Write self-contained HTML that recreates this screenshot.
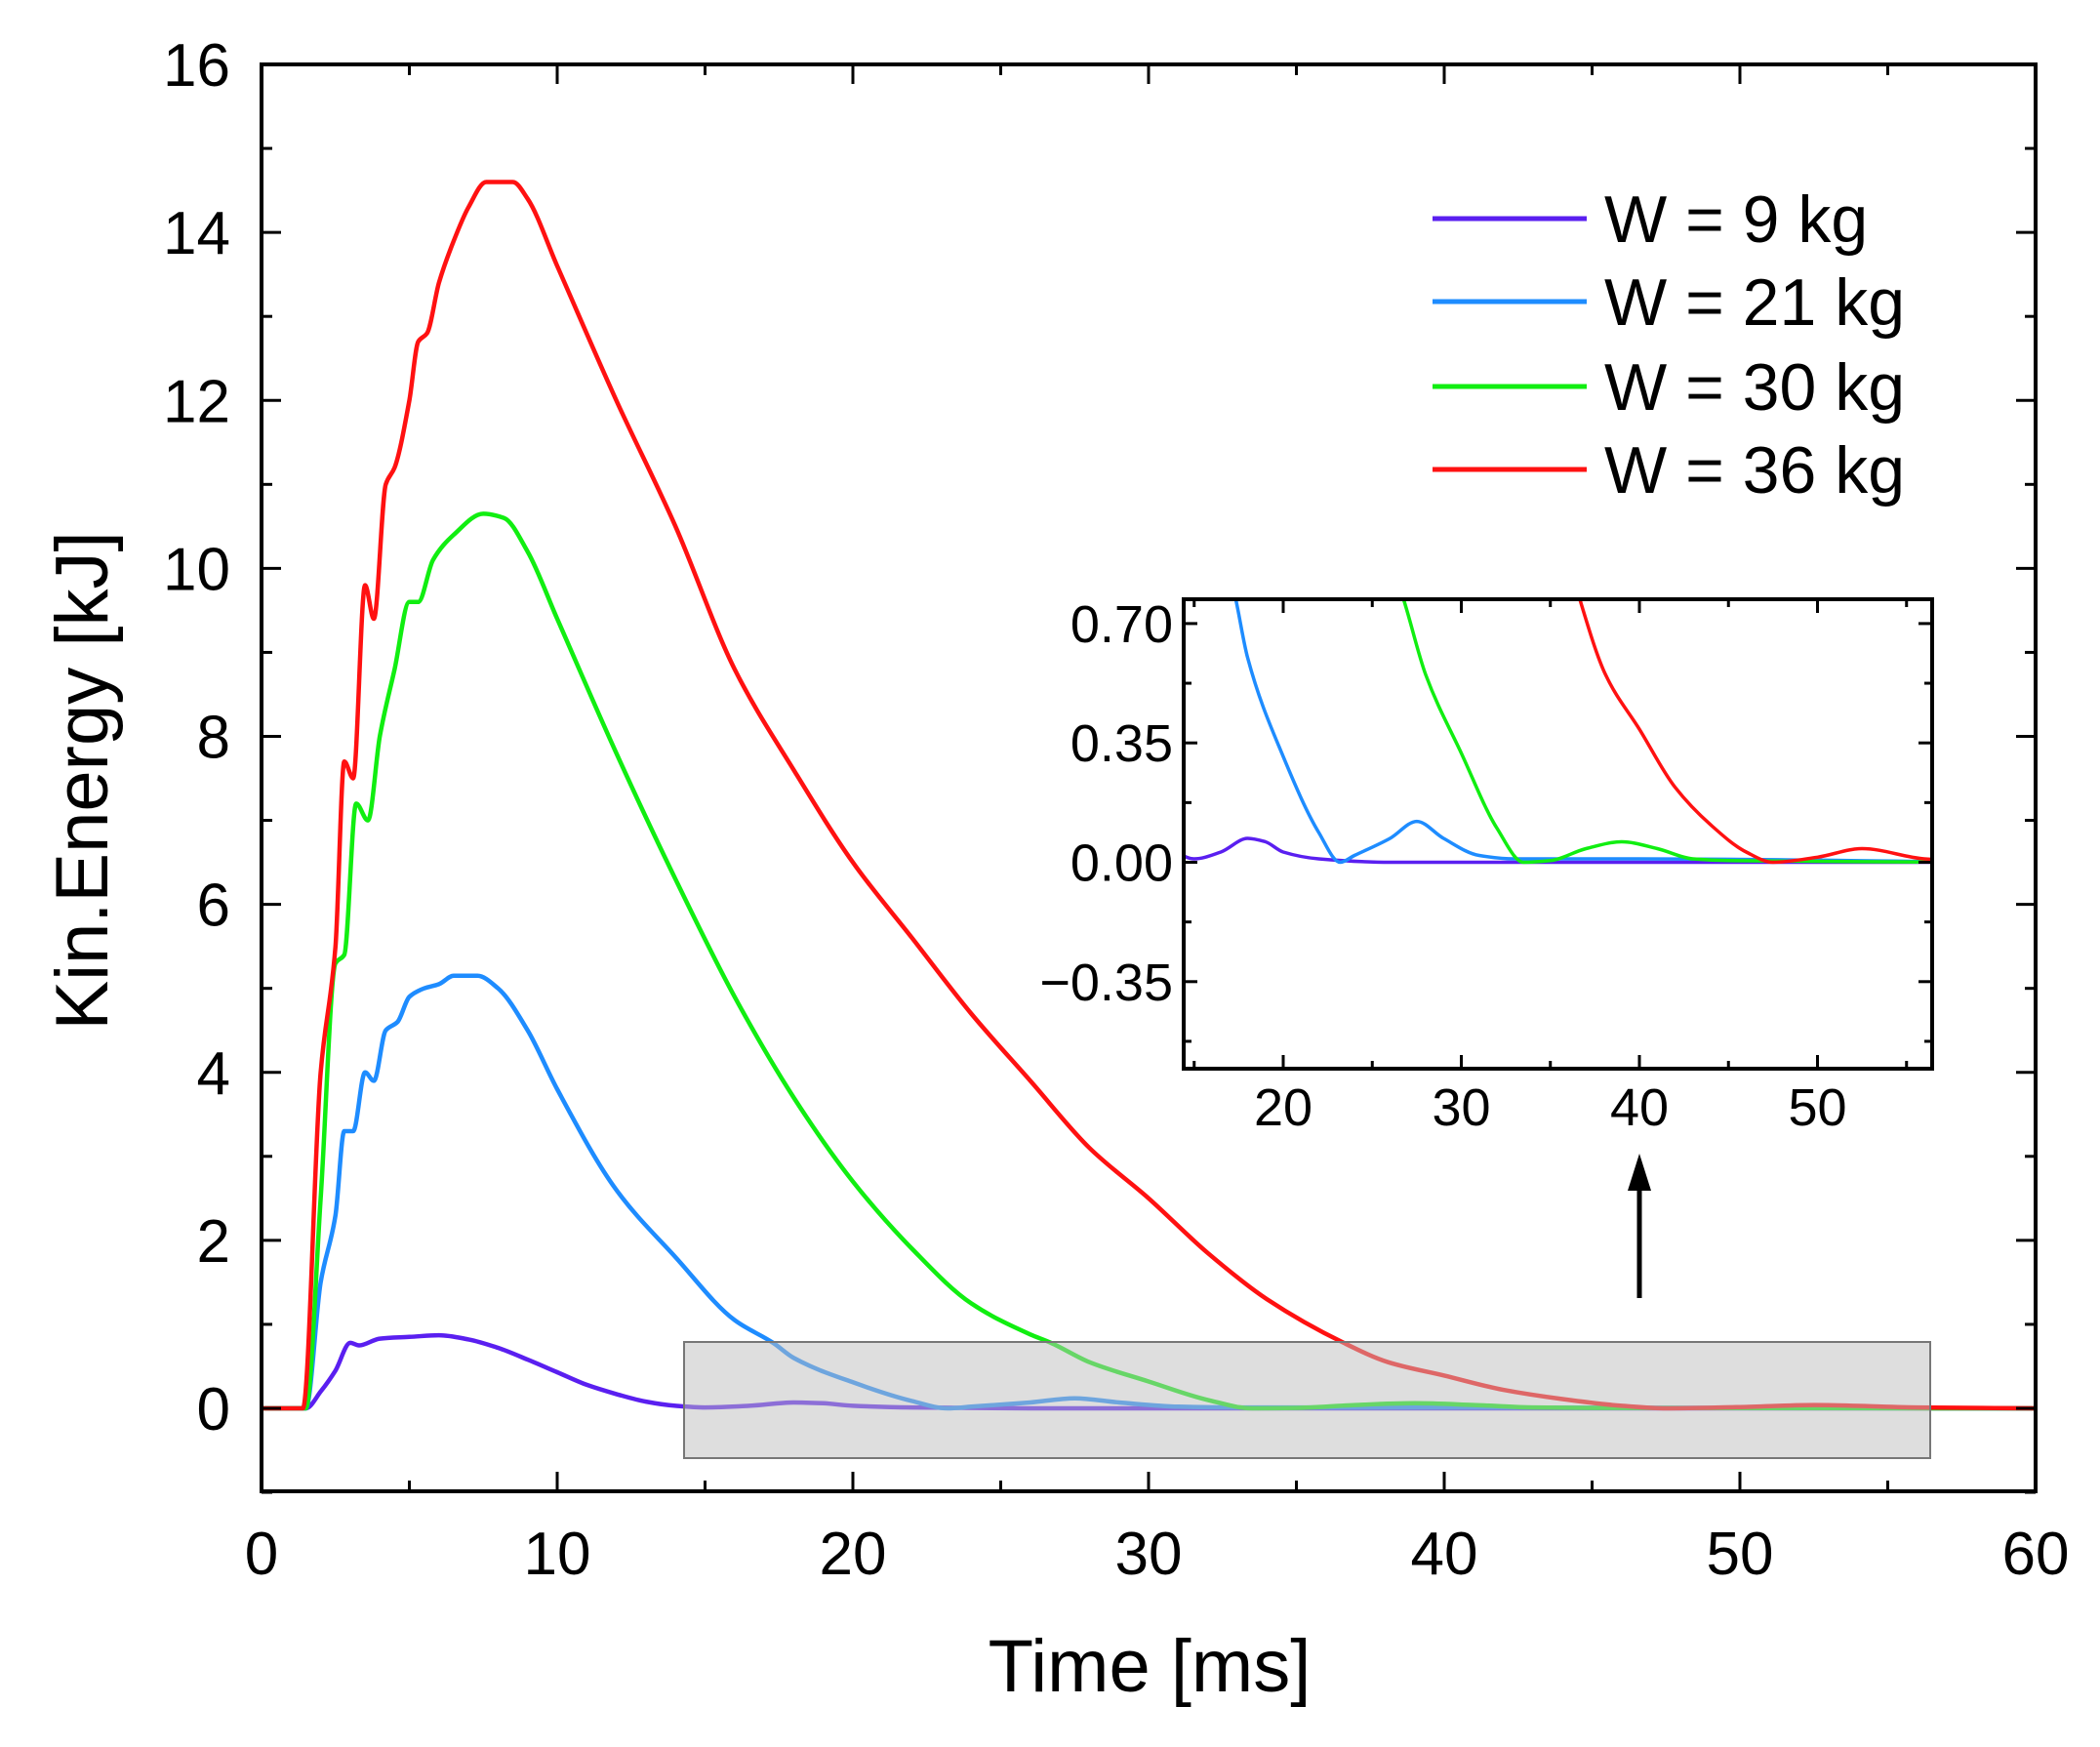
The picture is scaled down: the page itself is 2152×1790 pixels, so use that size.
<!DOCTYPE html>
<html><head><meta charset="utf-8"><style>
html,body{margin:0;padding:0;background:#fff;}
svg{display:block;font-family:"Liberation Sans",Arial,sans-serif;}
</style></head><body>
<svg id="chart" width="2152" height="1790" viewBox="0 0 2152 1790" xmlns="http://www.w3.org/2000/svg">
<g id="main"></g>
</svg>
<script>
const seriesNames=["W = 9 kg","W = 21 kg","W = 30 kg","W = 36 kg"];
const seriesColors=["#5a1ff0","#1e8cff","#11ee11","#ff1111"];
const t9=[0,1.5,2,2.5,3,3.3,4,5,6,7,8,9,10,11,12,13,14,15,16.5,18,19,20,22,26,40,60];
const e9=[0,0,0.2,0.45,0.78,0.75,0.83,0.85,0.87,0.82,0.72,0.58,0.43,0.28,0.17,0.08,0.03,0.01,0.03,0.07,0.06,0.03,0.01,0,0,0];
const t21=[0,1.5,2,2.5,2.8,3.1,3.5,3.8,4.2,4.6,5,5.5,6,6.5,7.3,8,9,10,12,14,16,17.3,18,20,22,23.2,24,26,27.5,29,31,33,40,60];
const e21=[0,0,1.5,2.3,3.3,3.3,4.0,3.9,4.5,4.6,4.9,5.0,5.05,5.15,5.15,5.0,4.5,3.8,2.6,1.8,1.05,0.78,0.6,0.31,0.087,0,0.02,0.07,0.12,0.07,0.02,0.01,0.01,0];
const t30=[0,1.5,2,2.5,2.8,3.2,3.6,4,4.5,5,5.3,5.8,6.5,7.5,8.2,9,10,12,14,16,18,20,22,24,26,26.7,28,30,32,33.5,35,37,39,41,43,45,60];
const e30=[0,0,2.5,5.3,5.4,7.2,7.0,8.0,8.8,9.6,9.6,10.1,10.4,10.65,10.6,10.2,9.4,7.8,6.3,4.9,3.7,2.7,1.9,1.25,0.88,0.78,0.55,0.32,0.1,0,0.005,0.04,0.06,0.04,0.01,0.005,0];
const t36=[0,1.4,2,2.5,2.8,3.1,3.5,3.8,4.2,4.5,5,5.3,5.6,6,6.5,7,7.6,8.5,9,10,12,14,16,18,20,22,24,26,28,30,32,34,36.6,38.1,40,42,44,46,47.5,50,52.5,56,60];
const e36=[0,0,4,5.5,7.7,7.5,9.8,9.4,11.0,11.2,12.0,12.7,12.8,13.4,13.9,14.3,14.6,14.6,14.4,13.6,12.0,10.5,8.8,7.6,6.5,5.6,4.7,3.9,3.1,2.5,1.85,1.3,0.78,0.55,0.39,0.22,0.11,0.03,0,0.015,0.04,0.01,0];
const xTicks=[0,10,20,30,40,50,60];
const yTicks=[0,2,4,6,8,10,12,14,16];
const insetXTicks=[20,30,40,50];
const insetYTicks=[0.70,0.35,0.00,-0.35];
const insetYLabels=["0.70","0.35","0.00","\u22120.35"];

const NS="http://www.w3.org/2000/svg";
const root=document.getElementById('main');
function mk(tag,attrs,parent){const e=document.createElementNS(NS,tag);for(const k in attrs)e.setAttribute(k,attrs[k]);(parent||root).appendChild(e);return e;}
const ts=[t9,t21,t30,t36], es=[e9,e21,e30,e36];

const L=268,R=2086,T=66,B=1528,Y0=1443;
const X=v=>L+v/60*(R-L);
const Y=v=>Y0-(v/16)*(Y0-T);
// monotone cubic (Fritsch-Carlson) rendering of the data points
function pathFor(t,e,xf,yf){
  const x=t.map(xf), y=e.map(yf), n=x.length;
  const d=[],m=new Array(n);
  for(let i=0;i<n-1;i++)d.push((y[i+1]-y[i])/(x[i+1]-x[i]));
  m[0]=d[0];m[n-1]=d[n-2];
  for(let i=1;i<n-1;i++){
    if(d[i-1]*d[i]<=0)m[i]=0;
    else{const w1=2*(x[i+1]-x[i])+(x[i]-x[i-1]),w2=(x[i+1]-x[i])+2*(x[i]-x[i-1]);m[i]=(w1+w2)/(w1/d[i-1]+w2/d[i]);}
  }
  let s='M'+x[0].toFixed(1)+' '+y[0].toFixed(1);
  for(let i=0;i<n-1;i++){
    const h=(x[i+1]-x[i])/3;
    s+='C'+(x[i]+h).toFixed(1)+' '+(y[i]+m[i]*h).toFixed(1)+' '+(x[i+1]-h).toFixed(1)+' '+(y[i+1]-m[i+1]*h).toFixed(1)+' '+x[i+1].toFixed(1)+' '+y[i+1].toFixed(1);
  }
  return s;
}

const cp=mk('clipPath',{id:'mainclip'});mk('rect',{x:L,y:T,width:R-L,height:B-T},cp);

for(let s=0;s<4;s++){
  const p=mk('path',{d:pathFor(ts[s],es[s],X,Y),fill:'none',stroke:seriesColors[s],'stroke-width':4.5,'stroke-linejoin':'round','clip-path':'url(#mainclip)'});
  
  
}
const zb=mk('rect',{x:701,y:1375,width:1978-701,height:1494-1375,fill:'rgba(190,190,190,0.5)',stroke:'#777','stroke-width':2});



const fr=mk('rect',{x:L,y:T,width:R-L,height:B-T,fill:'none',stroke:'#000','stroke-width':4});


for(let v=0;v<=60;v+=5){const maj=v%10===0,len=maj?20:11;
  mk('line',{x1:X(v),x2:X(v),y1:B,y2:B-len,stroke:'#000','stroke-width':3});
  mk('line',{x1:X(v),x2:X(v),y1:T,y2:T+len,stroke:'#000','stroke-width':3});}
for(let v=-1;v<=16;v+=1){const maj=v%2===0,len=maj?20:11;
  mk('line',{x1:L,x2:L+len,y1:Y(v),y2:Y(v),stroke:'#000','stroke-width':3});
  mk('line',{x1:R,x2:R-len,y1:Y(v),y2:Y(v),stroke:'#000','stroke-width':3});}
xTicks.forEach(v=>{const t=mk('text',{x:X(v),y:1613,'font-size':62,'text-anchor':'middle'});t.textContent=v;
  
  });
yTicks.forEach(v=>{const t=mk('text',{x:236,y:Y(v)+22,'font-size':62,'text-anchor':'end'});t.textContent=v;
  
  });
const xt=mk('text',{x:1178,y:1733,'font-size':76,'text-anchor':'middle'});xt.textContent='Time [ms]';


const yt=mk('text',{x:0,y:0,'font-size':76,'text-anchor':'middle',transform:'translate(110,800) rotate(-90)'});yt.textContent='Kin.Energy [kJ]';



const legY=[224,309,396,481];
for(let s=0;s<4;s++){const yy=legY[s];
  const g=mk('g',{});
  
  
  mk('line',{x1:1468,x2:1626,y1:yy,y2:yy,stroke:seriesColors[s],'stroke-width':5},g);
  const t=mk('text',{x:1644,y:yy+24,'font-size':68},g);t.textContent=seriesNames[s];}

const ar=mk('g',{});


mk('line',{x1:1680,x2:1680,y1:1330,y2:1210,stroke:'#000','stroke-width':5},ar);
mk('polygon',{points:'1680,1182 1668,1220 1692,1220',fill:'#000'},ar);

// inset
const IL=1213,IR=1980,IT=614,IB=1095;
const IX=v=>1315+(v-20)*18.25;
const IY=v=>883.5-v/0.35*122.3;
const ig=mk('g',{});


mk('rect',{x:IL,y:IT,width:IR-IL,height:IB-IT,fill:'#fff'},ig);
const icp=mk('clipPath',{id:'iclip'},ig);mk('rect',{x:IL,y:IT,width:IR-IL,height:IB-IT},icp);
for(let s=0;s<4;s++){
  const p=mk('path',{d:pathFor(ts[s],es[s],IX,IY),fill:'none',stroke:seriesColors[s],'stroke-width':3.5,'stroke-linejoin':'round','clip-path':'url(#iclip)'},ig);
  
  
}
mk('rect',{x:IL,y:IT,width:IR-IL,height:IB-IT,fill:'none',stroke:'#000','stroke-width':4},ig);
for(let v=15;v<=55;v+=5){const maj=v%10===0,len=maj?14:8;
  mk('line',{x1:IX(v),x2:IX(v),y1:IB,y2:IB-len,stroke:'#000','stroke-width':3},ig);
  mk('line',{x1:IX(v),x2:IX(v),y1:IT,y2:IT+len,stroke:'#000','stroke-width':3},ig);}
for(let k=-3;k<=4;k++){const v=k*0.175,maj=k%2===0,len=maj?14:8;
  mk('line',{x1:IL,x2:IL+len,y1:IY(v),y2:IY(v),stroke:'#000','stroke-width':3},ig);
  mk('line',{x1:IR,x2:IR-len,y1:IY(v),y2:IY(v),stroke:'#000','stroke-width':3},ig);}
insetXTicks.forEach(v=>{const t=mk('text',{x:IX(v),y:1153,'font-size':54,'text-anchor':'middle'},ig);t.textContent=v;
  
  });
insetYTicks.forEach((v,i)=>{const t=mk('text',{x:1202,y:IY(v)+19,'font-size':54,'text-anchor':'end'},ig);t.textContent=insetYLabels[i];
  
  });
</script>
</body></html>
